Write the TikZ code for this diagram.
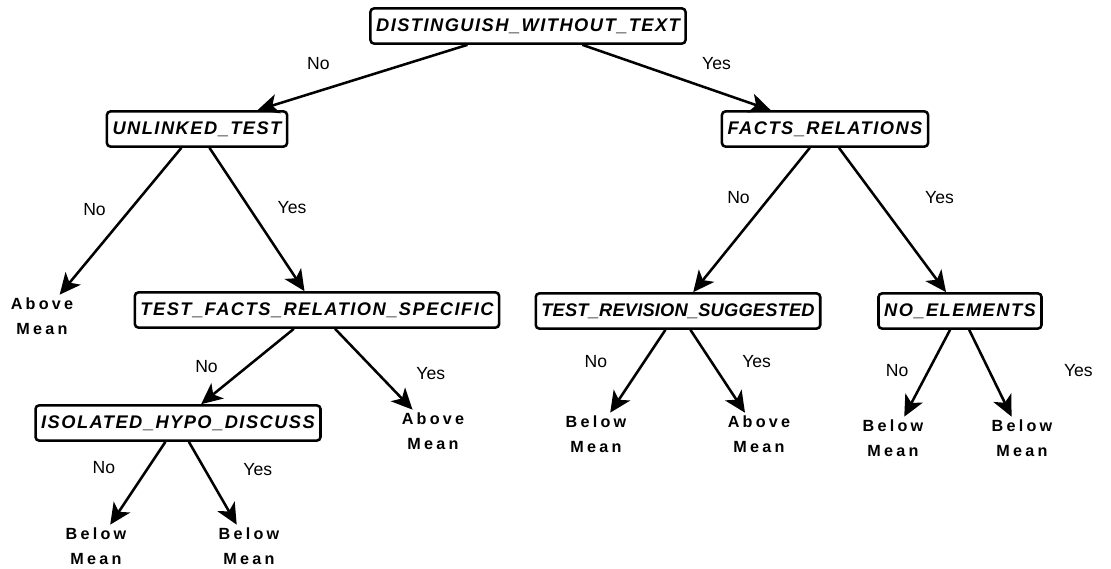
\documentclass[tikz,border=0pt]{standalone}
\usepackage{fontspec}
\setmainfont{Liberation Sans}
\newfontfamily\boxfont{Liberation Sans}[LetterSpace=8]
\newfontfamily\leaffont{Liberation Sans}[LetterSpace=20]
\usepackage{tikz}
\usetikzlibrary{arrows.meta,positioning,calc}

\begin{document}
\begin{tikzpicture}[
    x=0.025cm, y=-0.025cm,
    tst/.style={rectangle, draw=black, fill=white, line width=1.8pt, rounded corners=2.5pt, minimum height=25pt, inner xsep=4pt, font=\boxfont\bfseries\itshape\fontsize{13}{15}\selectfont},
    leaf/.style={align=center, inner sep=2pt, font=\leaffont\bfseries\fontsize{11.5}{17.5}\selectfont},
    lbl/.style={font=\fontsize{12.5}{14}\selectfont},
    arr/.style={draw, line width=1.8pt, -{Stealth[length=15pt, width=14pt, inset=4pt]}}
]
\useasboundingbox (0,0) rectangle (1111,569);

% Nodes
\node[tst] (root) at (528,26) {DISTINGUISH\_WITHOUT\_TEXT};
\node[tst] (unl) at (197,129) {UNLINKED\_TEST};
\node[tst] (fr) at (825,129) {FACTS\_RELATIONS};
\node[tst] (tfrs) at (317,310) {TEST\_FACTS\_RELATION\_SPECIFIC};
\node[tst] (iso) at (178,423) {ISOLATED\_HYPO\_DISCUSS};
\node[tst] (trs) at (678,311) {\addfontfeature{LetterSpace=1}TEST\_REVISION\_SUGGESTED};
\node[tst] (noel) at (960,311) {NO\_ELEMENTS};

\node[leaf] (abv1) at (42,316) {Above\\Mean};
\node[leaf] (abv2) at (433,431) {Above\\Mean};
\node[leaf] (blw1) at (96,546) {Below\\Mean};
\node[leaf] (blw2) at (249,546) {Below\\Mean};
\node[leaf] (blw3) at (596,434) {Below\\Mean};
\node[leaf] (abv3) at (759,434) {Above\\Mean};
\node[leaf] (blw4) at (893,438) {Below\\Mean};
\node[leaf] (blw5) at (1022,438) {Below\\Mean};

% Connections
\path[arr] (root) -- node[lbl, shift={(-44,-14)}] {No} (unl);
\path[arr] (root) -- node[lbl, shift={(40,-14)}] {Yes} (fr);
\path[arr] (unl) -- node[lbl, shift={(-26,-12)}] {No} (abv1);
\path[arr] (unl) -- node[lbl, shift={(35,-12)}] {Yes} (tfrs);
\path[arr] (fr) -- node[lbl, shift={(-13,-22)}] {No} (trs);
\path[arr] (fr) -- node[lbl, shift={(47,-22)}] {Yes} (noel);
\path[arr] (tfrs) -- node[lbl, shift={(-41,0)}] {No} (iso);
\path[arr] (tfrs) -- node[lbl, shift={(57,4)}] {Yes} (abv2);
\path[arr] (iso) -- node[lbl, shift={(-34,-16)}] {No} (blw1);
\path[arr] (iso) -- node[lbl, shift={(45,-14)}] {Yes} (blw2);
\path[arr] (trs) -- node[lbl, shift={(-42,-10)}] {No} (blw3);
\path[arr] (trs) -- node[lbl, shift={(39,-10)}] {Yes} (abv3);
\path[arr] (noel) -- node[lbl, shift={(-30,-3)}] {No} (blw4);
\path[arr] (noel) -- node[lbl, shift={(88,-3)}] {Yes} (blw5);

\end{tikzpicture}
\end{document}
